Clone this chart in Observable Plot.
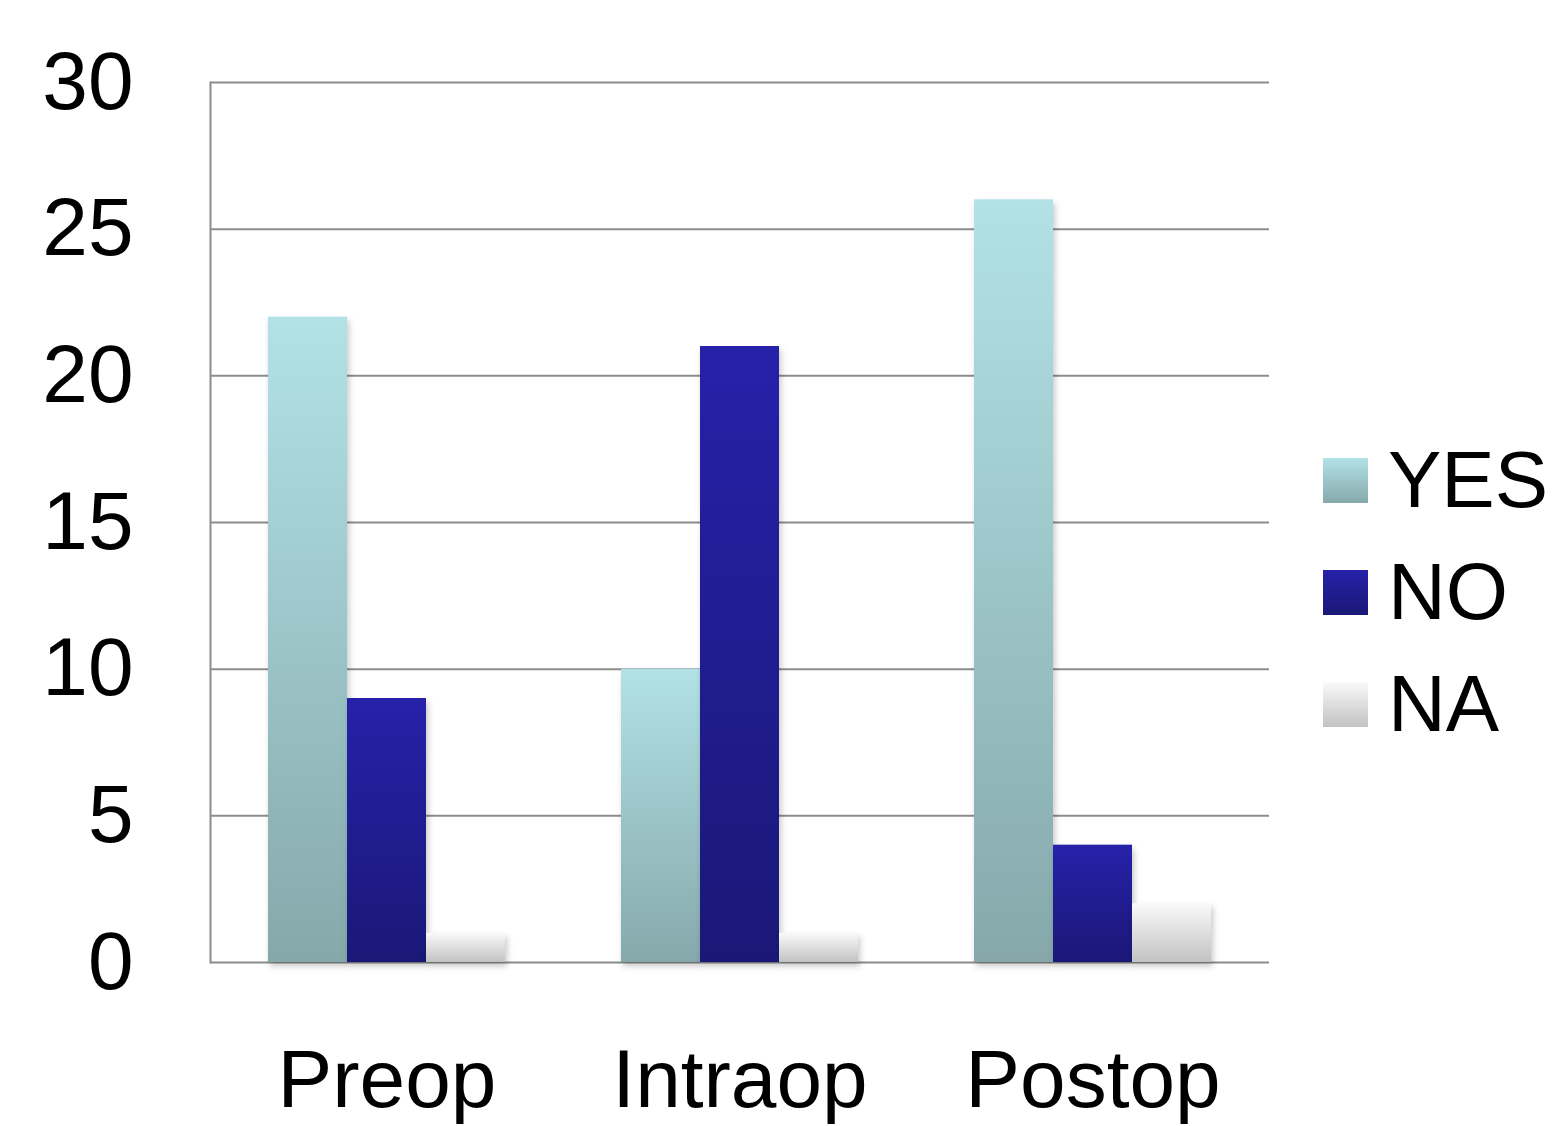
<!DOCTYPE html>
<html>
<head>
<meta charset="utf-8">
<script src="https://cdn.jsdelivr.net/npm/d3@7"></script>
<script src="https://cdn.jsdelivr.net/npm/@observablehq/plot@0.6"></script>
<style>
  html, body { margin: 0; padding: 0; background: #fff; }
  #wrap { position: relative; width: 1552px; height: 1126px; overflow: hidden; font-family: "Liberation Sans", Arial, sans-serif; }
  #legend { position: absolute; left: 1323px; top: 424px; }
  .item { display: flex; align-items: center; height: 112px; font-size: 80px; color: #000; white-space: nowrap; }
  .sw { width: 45px; height: 45px; margin-right: 20px; flex: none; }
</style>
</head>
<body>
<div id="wrap"><div id="chart"></div><div id="legend"></div></div>
<script>
const categories = ["Preop", "Intraop", "Postop"];
const series = ["YES", "NO", "NA"];
const yesValues = [22, 10, 26];
const noValues = [9, 21, 4];
const naValues = [1, 1, 2];
const yTicks = [0, 5, 10, 15, 20, 25, 30];
const gradients = {
  YES: ["#b2e2e6", "#86a8ab"],
  NO: ["#2621a9", "#1a1877"],
  NA: ["#fafafa", "#c2c2c2"]
};

const valuesBySeries = {YES: yesValues, NO: noValues, NA: naValues};
const data = [];
categories.forEach((c, i) => series.forEach(s => data.push({category: c, series: s, value: valuesBySeries[s][i]})));

const svg = Plot.plot({
  width: 1552,
  height: 1126,
  marginLeft: 209,
  marginRight: 282,
  marginTop: 82,
  marginBottom: 164,
  style: {fontFamily: "'Liberation Sans', Arial, sans-serif", fontSize: "82px", color: "#000", background: "white", overflow: "visible"},
  fx: {domain: categories, padding: 0, label: null},
  x: {domain: series, paddingInner: 0, paddingOuter: 0.73, axis: null},
  y: {domain: [0, 30], axis: null},
  color: {domain: series, range: series.map(s => `url(#grad-${s})`)},
  marks: [
    Plot.gridY(yTicks, {stroke: "#8c8c8c", strokeWidth: 2, strokeOpacity: 1}),
    Plot.frame({facet: "super", anchor: "left", stroke: "#8c8c8c", strokeWidth: 2}),
    Plot.barY(data, {fx: "category", x: "series", y: "value", fill: "series", className: "bars"}),
    Plot.axisY({ticks: yTicks, tickSize: 0, tickPadding: 77, label: null, fontSize: 82}),
    Plot.axisFx({anchor: "bottom", tickSize: 0, tickPadding: 86, label: null, fontSize: 82})
  ]
});

const ns = "http://www.w3.org/2000/svg";
const defs = document.createElementNS(ns, "defs");
for (const s of series) {
  const g = document.createElementNS(ns, "linearGradient");
  g.setAttribute("id", `grad-${s}`);
  g.setAttribute("x1", "0"); g.setAttribute("y1", "0");
  g.setAttribute("x2", "0"); g.setAttribute("y2", "1");
  gradients[s].forEach((col, k) => {
    const st = document.createElementNS(ns, "stop");
    st.setAttribute("offset", k === 0 ? "0" : "1");
    st.setAttribute("stop-color", col);
    g.appendChild(st);
  });
  defs.appendChild(g);
}
svg.insertBefore(defs, svg.firstChild);
svg.querySelectorAll(".bars rect").forEach(r => r.style.filter = "drop-shadow(2px 4px 3px rgba(0,0,0,0.22))");
document.getElementById("chart").appendChild(svg);

const legend = document.getElementById("legend");
for (const s of series) {
  const item = document.createElement("div");
  item.className = "item";
  const sw = document.createElement("div");
  sw.className = "sw";
  sw.style.background = `linear-gradient(${gradients[s][0]}, ${gradients[s][1]})`;
  const t = document.createElement("span");
  t.textContent = s;
  item.appendChild(sw);
  item.appendChild(t);
  legend.appendChild(item);
}
</script>
</body>
</html>
